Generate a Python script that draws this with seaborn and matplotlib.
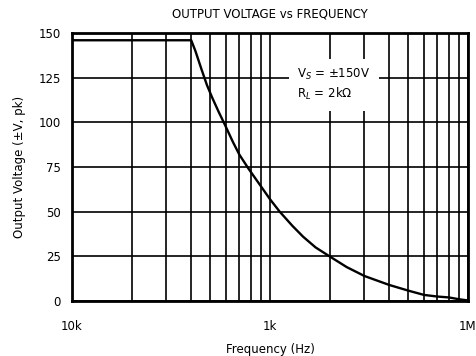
import matplotlib
matplotlib.use("Agg")
import matplotlib.pyplot as plt
import seaborn as sns
import pandas as pd

# Output swing vs frequency
freq_hz = [10e3, 20e3, 30e3, 40e3, 42e3, 45e3, 48e3, 51e3, 55e3, 59e3, 65e3,
           70e3, 78e3, 89e3, 100e3, 112e3, 130e3, 147e3, 170e3, 200e3, 244e3,
           300e3, 400e3, 500e3, 600e3, 700e3, 800e3, 900e3, 1e6]
vout_pk = [146, 146, 146, 146, 140, 130, 121, 114, 106, 99, 89,
           82, 74, 65, 57, 50, 42, 36, 30, 25, 19,
           14, 9, 5.8, 3.4, 2.5, 2.0, 1.0, 0.3]

y_ticks = [0, 25, 50, 75, 100, 125, 150]
x_ticks = [1e4, 1e5, 1e6]
x_tick_labels = ["10k", "1k", "1M"]

sns.set_style("white")
plt.rcParams["font.family"] = ["DejaVu Sans"]
for key in ("text.color", "axes.labelcolor", "xtick.color", "ytick.color"):
    plt.rcParams[key] = "black"

fig = plt.figure(figsize=(4.77, 3.56), dpi=100)
ax = fig.add_axes([0.151, 0.1545, 0.830, 0.7525])

df = pd.DataFrame({"f": freq_hz, "v": vout_pk})
sns.lineplot(data=df, x="f", y="v", ax=ax, color="black", linewidth=1.7, zorder=3)

ax.set_xscale("log")
ax.set_xlim(1e4, 1e6)
ax.set_ylim(0, 150)

# log grid: every integer multiple within each decade
minor = [m * d for d in (1e4, 1e5) for m in range(2, 10)]
for xv in minor + x_ticks:
    ax.axvline(xv, color="black", lw=1.2, zorder=1)
for yv in y_ticks:
    ax.axhline(yv, color="black", lw=1.2, zorder=1)

ax.set_xticks(x_ticks)
ax.set_xticklabels(x_tick_labels)
ax.xaxis.set_minor_locator(matplotlib.ticker.NullLocator())
ax.set_yticks(y_ticks)
ax.tick_params(axis="both", length=0, labelsize=8.5)
ax.tick_params(axis="x", pad=14)
ax.tick_params(axis="y", pad=8)

for s in ax.spines.values():
    s.set_visible(True)
    s.set_color("black")
    s.set_linewidth(2)

ax.set_xlabel("Frequency (Hz)", fontsize=8.5, labelpad=7)
ax.set_ylabel("Output Voltage (±V, pk)", fontsize=8.5, labelpad=9)
ax.set_title("OUTPUT VOLTAGE vs FREQUENCY", fontsize=8.5, pad=11)

ax.text(1.37e5, 131, "V$_S$ = ±150V\nR$_L$ = 2kΩ", fontsize=8.5, va="top", ha="left",
        linespacing=1.35, zorder=4,
        bbox=dict(facecolor="white", edgecolor="none", pad=6))

fig.savefig("out.png", dpi=100)
